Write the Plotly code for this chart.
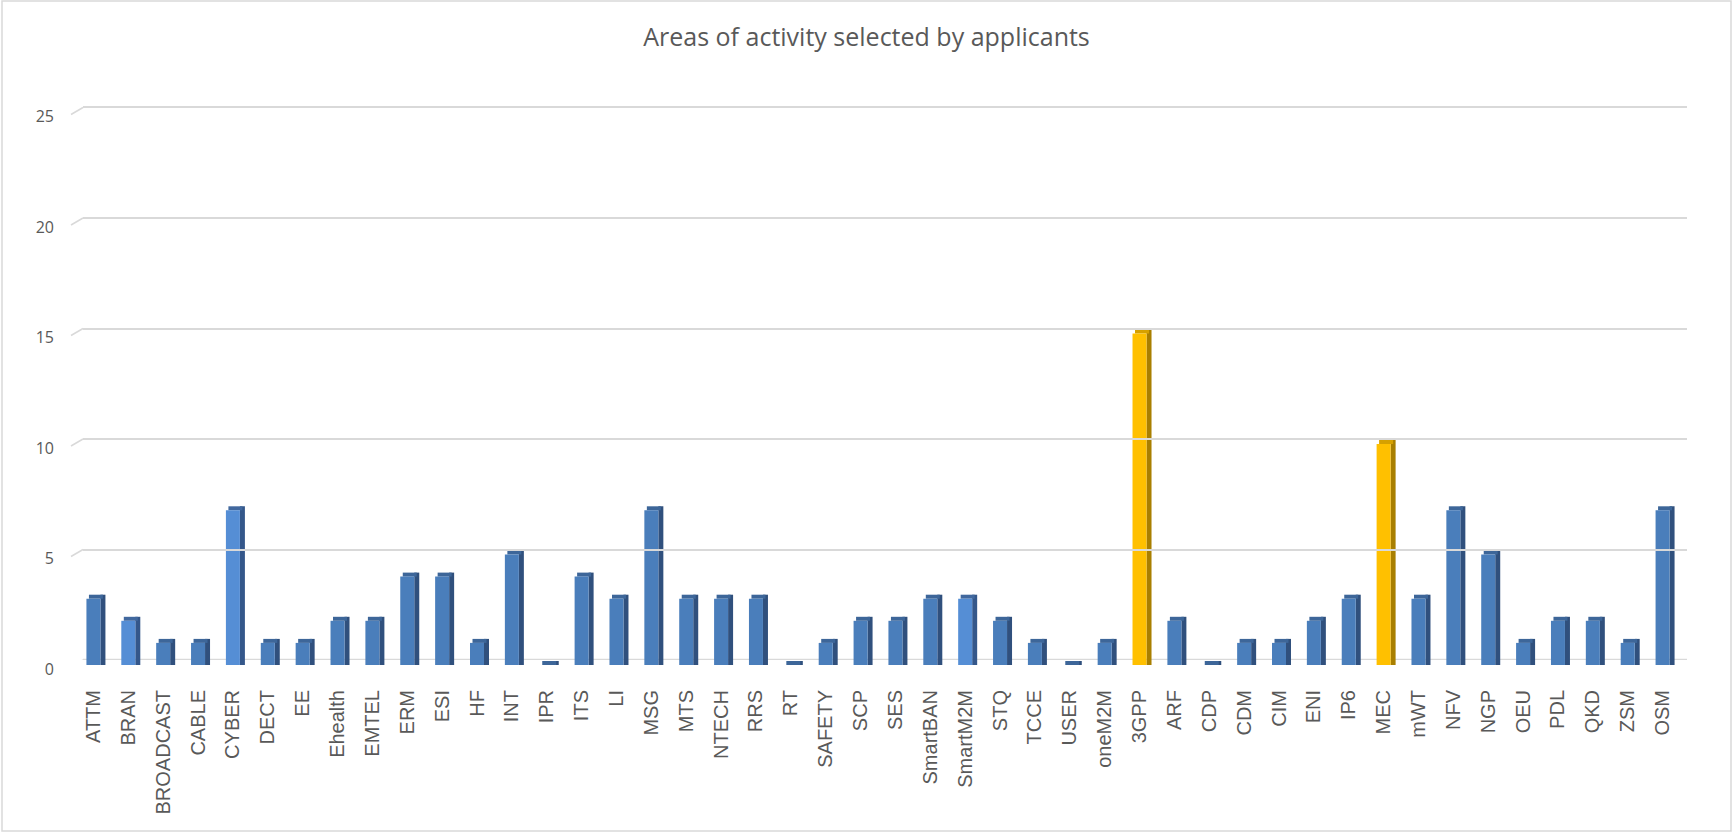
import plotly.graph_objects as go

# ---------------- data ----------------
categories = ["ATTM", "BRAN", "BROADCAST", "CABLE", "CYBER", "DECT", "EE", "Ehealth", "EMTEL",
              "ERM", "ESI", "HF", "INT", "IPR", "ITS", "LI", "MSG", "MTS", "NTECH", "RRS", "RT",
              "SAFETY", "SCP", "SES", "SmartBAN", "SmartM2M", "STQ", "TCCE", "USER", "oneM2M",
              "3GPP", "ARF", "CDP", "CDM", "CIM", "ENI", "IP6", "MEC", "mWT", "NFV", "NGP", "OEU",
              "PDL", "QKD", "ZSM", "OSM"]
values = [3, 2, 1, 1, 7, 1, 1, 2, 2,
          4, 4, 1, 5, 0, 4, 3, 7, 3, 3, 3, 0,
          1, 2, 2, 3, 3, 2, 1, 0, 1,
          15, 2, 0, 1, 1, 2, 3, 10, 3, 7, 5, 1,
          2, 2, 1, 7]
y_ticks = [0, 5, 10, 15, 20, 25]
title_text = "Areas of activity selected by applicants"

highlight_yellow = {"3GPP", "MEC"}
highlight_light = {"BRAN", "CYBER", "SmartM2M"}

# ---------------- style ----------------
W, H = 1733, 832
def px_x(p):
    return p / W
def px_y(p):
    return 1 - p / H

# pixel geometry
X_LEFT, X_RIGHT = 76, 1680        # category band for bars
Y_ZERO, PX_PER_UNIT = 665, 22.1   # bar axis
GRID_DX, GRID_DY = 7, 5           # back wall shift
n = len(categories)
px_per_cat = (X_RIGHT - X_LEFT) / n

front_w = 14 / px_per_cat
side_w = 5 / px_per_cat
depth_y = 4 / PX_PER_UNIT
ymax = y_ticks[-1]
grid_pad = 0.15

front_col, side_col, top_col = [], [], []
for c in categories:
    if c in highlight_yellow:
        front_col.append("#FFC000"); side_col.append("#A97F00"); top_col.append("#D6A100")
    elif c in highlight_light:
        front_col.append("#558ED5"); side_col.append("#34578A"); top_col.append("#41689E")
    else:
        front_col.append("#4A7EBB"); side_col.append("#30507D"); top_col.append("#3D6699")

fig = go.Figure()

# side face (behind)
fig.add_trace(go.Bar(
    x=categories, y=[v + depth_y for v in values], base=0,
    width=side_w, offset=front_w / 2,
    marker=dict(color=side_col, line=dict(width=0)),
    hoverinfo="skip", showlegend=False))
# top face
fig.add_trace(go.Bar(
    x=categories, y=[depth_y] * n, base=values,
    width=front_w, offset=-front_w / 2 + side_w / 2,
    marker=dict(color=top_col, line=dict(width=0)),
    hoverinfo="skip", showlegend=False))
# front face
fig.add_trace(go.Bar(
    x=categories, y=values,
    width=front_w, offset=-front_w / 2,
    marker=dict(color=front_col, line=dict(width=0)),
    showlegend=False))

# invisible trace to realise the back-wall grid axes
fig.add_trace(go.Scatter(x=[0], y=[0], xaxis="x2", yaxis="y2", mode="markers",
                         marker=dict(opacity=0), hoverinfo="skip", showlegend=False))

grid_zero_px = Y_ZERO - GRID_DY
grid_top_px = grid_zero_px - (ymax + grid_pad) * PX_PER_UNIT
fig.update_layout(
    width=W, height=H,
    margin=dict(l=0, r=0, t=0, b=0, autoexpand=False),
    paper_bgcolor="white", plot_bgcolor="rgba(0,0,0,0)",
    barmode="overlay",
    font=dict(family="Open Sans, DejaVu Sans, sans-serif", color="#595959"),
    title=dict(text=title_text, x=0.5, xanchor="center", y=px_y(37), yanchor="middle",
               font=dict(size=25, color="#595959", family="Open Sans, sans-serif")),
    xaxis=dict(domain=[px_x(X_LEFT), px_x(X_RIGHT)], type="category",
               range=[-0.5, n - 0.5], tickangle=-90, automargin=False,
               tickfont=dict(size=20, color="#595959", family="Liberation Sans, Arial, sans-serif"),
               showgrid=False, zeroline=False, showline=False, ticks="",
               ticklabelstandoff=20, anchor="y"),
    yaxis=dict(domain=[px_y(Y_ZERO), px_y(Y_ZERO - ymax * PX_PER_UNIT)],
               range=[0, ymax], tickvals=y_ticks, automargin=False,
               tickfont=dict(size=16, color="#595959"),
               showgrid=False, zeroline=False, showline=False, ticks="",
               ticklabelstandoff=21, ticklabelshift=4, anchor="x"),
    xaxis2=dict(domain=[px_x(X_LEFT + GRID_DX), px_x(X_RIGHT + GRID_DX)], automargin=False,
                range=[-0.5, n - 0.5], visible=False, anchor="y2"),
    yaxis2=dict(domain=[px_y(grid_zero_px), px_y(grid_top_px)], automargin=False,
                range=[0, ymax + grid_pad], tickvals=y_ticks, showticklabels=False,
                showgrid=True, gridcolor="#D9D9D9", gridwidth=1.5,
                zeroline=False, showline=False, ticks="", anchor="x2"),
)

shapes = []
# short diagonal stubs at the left end of each gridline (3-D wall edge)
for t in y_ticks:
    shapes.append(dict(type="line", xref="paper", yref="y2",
                       x0=px_x(X_LEFT - 5), x1=px_x(X_LEFT + GRID_DX),
                       y0=t - (GRID_DY + 2) / PX_PER_UNIT, y1=t,
                       line=dict(color="#D9D9D9", width=1.5)))
# floor line thicker
shapes.append(dict(type="line", xref="paper", yref="y2",
                   x0=px_x(X_LEFT + GRID_DX), x1=px_x(X_RIGHT + GRID_DX), y0=0, y1=0,
                   line=dict(color="#D9D9D9", width=2.5), layer="below"))
# chart border
shapes.append(dict(type="rect", xref="paper", yref="paper",
                   x0=px_x(2), x1=px_x(1731), y0=px_y(831), y1=px_y(1),
                   line=dict(color="#D9D9D9", width=1.5)))
fig.update_layout(shapes=shapes)

fig.write_html("out.html", config={"displayModeBar": False},
               post_script="document.body.style.margin='0';document.body.style.overflow='hidden';")
